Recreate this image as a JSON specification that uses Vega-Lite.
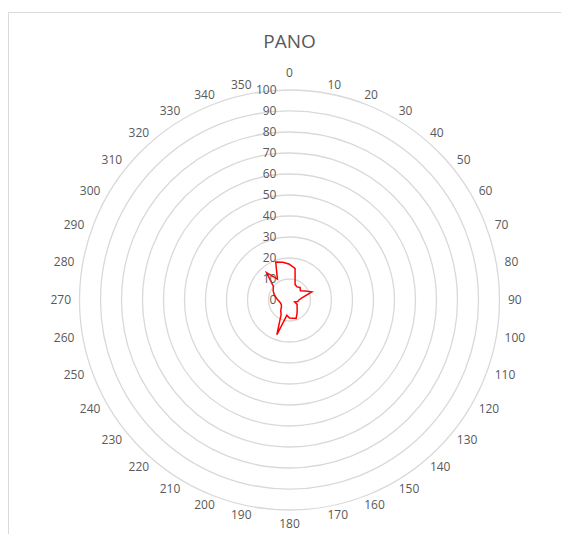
{
  "$schema": "https://vega.github.io/schema/vega-lite/v6.json",
  "autosize": {"type": "fit", "contains": "padding"},
  "width": 561,
  "height": 534,
  "padding": {"left": 8, "top": 12, "right": 0, "bottom": 0},
  "background": "white",
  "config": {
    "view": {"stroke": "#d9d9d9", "strokeWidth": 1},
    "font": "Open Sans"
  },
  "datasets": {
    "pano": [
      {"angle": 0, "value": 17},
      {"angle": 10, "value": 15.3},
      {"angle": 20, "value": 7.8},
      {"angle": 30, "value": 7.2},
      {"angle": 40, "value": 7.8},
      {"angle": 50, "value": 6.8},
      {"angle": 60, "value": 8.6},
      {"angle": 70, "value": 11.3},
      {"angle": 80, "value": 6},
      {"angle": 90, "value": 4.5},
      {"angle": 100, "value": 4},
      {"angle": 110, "value": 2.6},
      {"angle": 120, "value": 4.2},
      {"angle": 130, "value": 4.7},
      {"angle": 140, "value": 5.7},
      {"angle": 150, "value": 7.2},
      {"angle": 160, "value": 9.3},
      {"angle": 170, "value": 8.8},
      {"angle": 180, "value": 8.6},
      {"angle": 190, "value": 7.4},
      {"angle": 200, "value": 17.6},
      {"angle": 210, "value": 8},
      {"angle": 220, "value": 6.5},
      {"angle": 230, "value": 5},
      {"angle": 240, "value": 4.5},
      {"angle": 250, "value": 4.5},
      {"angle": 260, "value": 4.8},
      {"angle": 270, "value": 5.5},
      {"angle": 280, "value": 6.5},
      {"angle": 290, "value": 7.8},
      {"angle": 300, "value": 9},
      {"angle": 310, "value": 10},
      {"angle": 320, "value": 17},
      {"angle": 330, "value": 11.5},
      {"angle": 340, "value": 19.2},
      {"angle": 350, "value": 18.2}
    ],
    "levels": [
      {"level": 0}, {"level": 10}, {"level": 20}, {"level": 30}, {"level": 40},
      {"level": 50}, {"level": 60}, {"level": 70}, {"level": 80}, {"level": 90}, {"level": 100}
    ]
  },
  "layer": [
    {
      "data": {"name": "levels"},
      "transform": [{"filter": "datum.level > 0"}],
      "mark": {"type": "point", "shape": "circle", "filled": false, "stroke": "#d9d9d9", "strokeWidth": 1.3, "opacity": 1},
      "encoding": {
        "x": {"datum": 0, "type": "quantitative", "scale": {"domain": [-134.05, 129.29], "nice": false, "zero": false}, "axis": null},
        "y": {"datum": 0, "type": "quantitative", "scale": {"domain": [-111.43, 137.14], "nice": false, "zero": false}, "axis": null},
        "size": {"field": "level", "type": "quantitative", "scale": {"type": "pow", "exponent": 2, "domain": [0, 100], "range": [0, 176400]}, "legend": null}
      }
    },
    {
      "data": {"name": "pano"},
      "transform": [
        {"calculate": "datum.value * sin(datum.angle * PI / 180)", "as": "px"},
        {"calculate": "datum.value * cos(datum.angle * PI / 180)", "as": "py"}
      ],
      "mark": {"type": "line", "interpolate": "linear-closed", "color": "#ff0000", "strokeWidth": 1.5},
      "encoding": {
        "x": {"field": "px", "type": "quantitative"},
        "y": {"field": "py", "type": "quantitative"},
        "order": {"field": "angle", "type": "quantitative"}
      }
    },
    {
      "data": {"name": "levels"},
      "mark": {"type": "text", "align": "right", "baseline": "middle", "dx": -13, "fontSize": 12, "color": "#595959"},
      "encoding": {
        "x": {"datum": 0, "type": "quantitative"},
        "y": {"field": "level", "type": "quantitative"},
        "text": {"field": "level", "type": "quantitative"}
      }
    },
    {
      "data": {"name": "pano"},
      "transform": [
        {"filter": "datum.angle == 0"},
        {"calculate": "104 * sin(datum.angle * PI / 180)", "as": "lx"},
        {"calculate": "104 * cos(datum.angle * PI / 180)", "as": "ly"}
      ],
      "mark": {"type": "text", "align": "center", "baseline": "bottom", "dy": -2, "fontSize": 12, "color": "#595959"},
      "encoding": {
        "x": {"field": "lx", "type": "quantitative"},
        "y": {"field": "ly", "type": "quantitative"},
        "text": {"field": "angle", "type": "quantitative"}
      }
    },
    {
      "data": {"name": "pano"},
      "transform": [
        {"filter": "datum.angle == 180"},
        {"calculate": "104 * sin(datum.angle * PI / 180)", "as": "lx"},
        {"calculate": "104 * cos(datum.angle * PI / 180)", "as": "ly"}
      ],
      "mark": {"type": "text", "align": "center", "baseline": "top", "dy": 1, "fontSize": 12, "color": "#595959"},
      "encoding": {
        "x": {"field": "lx", "type": "quantitative"},
        "y": {"field": "ly", "type": "quantitative"},
        "text": {"field": "angle", "type": "quantitative"}
      }
    },
    {
      "data": {"name": "pano"},
      "transform": [
        {"filter": "datum.angle > 0 && datum.angle < 180"},
        {"calculate": "104 * sin(datum.angle * PI / 180)", "as": "lx"},
        {"calculate": "104 * cos(datum.angle * PI / 180)", "as": "ly"}
      ],
      "mark": {"type": "text", "align": "left", "baseline": "middle", "fontSize": 12, "color": "#595959"},
      "encoding": {
        "x": {"field": "lx", "type": "quantitative"},
        "y": {"field": "ly", "type": "quantitative"},
        "text": {"field": "angle", "type": "quantitative"}
      }
    },
    {
      "data": {"name": "pano"},
      "transform": [
        {"filter": "datum.angle > 180"},
        {"calculate": "104 * sin(datum.angle * PI / 180)", "as": "lx"},
        {"calculate": "104 * cos(datum.angle * PI / 180)", "as": "ly"}
      ],
      "mark": {"type": "text", "align": "right", "baseline": "middle", "fontSize": 12, "color": "#595959"},
      "encoding": {
        "x": {"field": "lx", "type": "quantitative"},
        "y": {"field": "ly", "type": "quantitative"},
        "text": {"field": "angle", "type": "quantitative"}
      }
    },
    {
      "data": {"values": [{"title": "PANO"}]},
      "mark": {"type": "text", "align": "center", "baseline": "middle", "fontSize": 19, "color": "#595959"},
      "encoding": {
        "x": {"datum": 0, "type": "quantitative"},
        "y": {"datum": 123, "type": "quantitative"},
        "text": {"field": "title", "type": "nominal"}
      }
    }
  ]
}
